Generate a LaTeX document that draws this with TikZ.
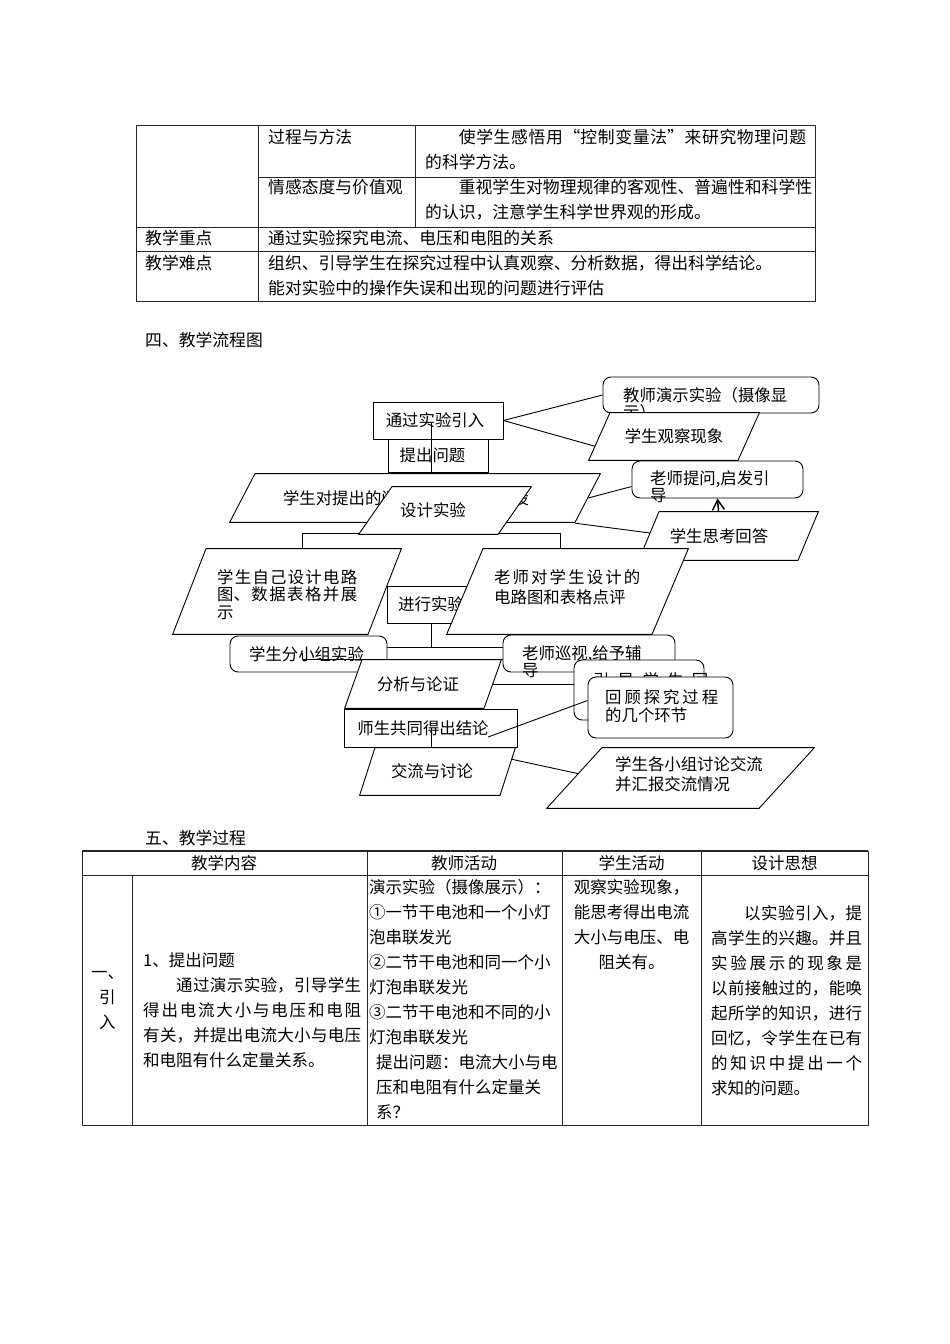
\documentclass[tikz,border=0pt]{standalone}
\usepackage{fontspec}
\usepackage{tikz}
\usetikzlibrary{arrows.meta,calc,backgrounds}
\newfontfamily\cjk{Noto Sans CJK SC}
\XeTeXlinebreaklocale "zh"
\XeTeXlinebreakskip=0pt plus 8pt
\colorlet{inkcol}{black}
\colorlet{rulecol}{black!85}
\newcommand{\toptabfont}{\cjk\fontsize{16.8}{25}\selectfont}
\newcommand{\proctabfont}{\cjk\fontsize{16.5}{25}\selectfont}
\newcommand{\chartfont}[1]{\cjk\fontsize{16.4}{#1}\selectfont}
\newcommand{\chartlead}{\rule{0pt}{14pt}}

\begin{document}
\begin{tikzpicture}[x=1pt, y=-1pt, line join=round,
  every node/.style={inner sep=0pt, text=inkcol},
  tabline/.style={draw=rulecol, line width=0.9pt},
  cell/.style={anchor=north west, font=\toptabfont},
  pcell/.style={anchor=north west, font=\proctabfont},
  conn/.style={draw=inkcol, line width=0.9pt},
  rect/.style={draw=inkcol, line width=0.9pt, fill=white, font=\chartfont{17}},
  rbox/.style={rect, rounded corners=8pt},
  pgram/.style={font=\chartfont{17}, path picture={
      \draw[inkcol, line width=0.9pt, fill=white]
        ([xshift=.6pt,yshift=.6pt]path picture bounding box.south west)
        -- ([xshift=-#1pt,yshift=.6pt]path picture bounding box.south east)
        -- ([xshift=-.6pt,yshift=-.6pt]path picture bounding box.north east)
        -- ([xshift=#1pt,yshift=-.6pt]path picture bounding box.north west)
        -- cycle;}},
  tag/.style={anchor=north west, align=left, font=\chartfont{#1}}]
  \useasboundingbox (0,0) rectangle (950,1344);

  % objectives table
  \draw[tabline] (136,125) rectangle (815,301);
  \draw[tabline] (258,125) -- (258,301);
  \draw[tabline] (415,125) -- (415,227);
  \draw[tabline] (258,177) -- (815,177);
  \foreach \y in {227,251}
    {\draw[tabline] (136,\y) -- (815,\y);}
  \node[cell] (tmethod) at (268,125.7) {\strut 过程与方法};
  \node[cell, text width=381, align=justify] (tmethodtx) at (425,125.7)
    {\strut\hspace*{2em}使学生感悟用“控制变量法”来研究物理问题\linebreak 的科学方法。};
  \node[cell] (tvalue) at (268,175.7) {\strut 情感态度与价值观};
  \node[cell, text width=387, align=justify] (tvaluetx) at (425,175.7)
    {\strut\hspace*{2em}重视学生对物理规律的客观性、普遍性和科学性\linebreak 的认识，注意学生科学世界观的形成。};
  \node[cell] (tkey) at (145,226.7) {\strut 教学重点};
  \node[cell] (tkeytx) at (268,226.7) {\strut 通过实验探究电流、电压和电阻的关系};
  \node[cell] (thard) at (145,251.7) {\strut 教学难点};
  \node[cell, text width=540, align=left] (thardtx) at (268,251.7)
    {\strut 组织、引导学生在探究过程中认真观察、分析数据，得出科学结论。\\能对实验中的操作失误和出现的问题进行评估};

  \node[cell] (head4) at (145,328.7) {\strut 四、教学流程图};

  % flow chart
  \node[rect, minimum width=130, minimum height=37] (intro) at (438,420.5) {通过实验引入\hspace*{6pt}};
  \node[rect, minimum width=100, minimum height=33] (ask) at (438,455.5) {提出问题\hspace*{11pt}};
  \node[pgram=26, minimum width=372, minimum height=50] (guess) at (415,498)
    {学生对提出的问题进行猜想与假设\hspace*{18pt}};
  \coordinate (sp1) at (431,423);
  \draw[conn] (sp1) -- (sp1 |- guess.north);
  \node[pgram=34, minimum width=174, minimum height=49] (design) at (445,510.5) {设计实验\hspace*{24pt}};

  \node[rbox, minimum width=216, minimum height=36] (demo) at (711,395) {};
  \node[tag=17] (demo-t) at (623,387.2) {\chartlead 教师演示实验（摄像显\\示）};
  \node[pgram=22, minimum width=172, minimum height=49] (observe) at (674,436.5) {学生观察现象};
  \node[rbox, minimum width=171, minimum height=37] (ask2) at (717.5,479.5) {};
  \node[tag=17] (ask2-t) at (650,470.2) {\chartlead 老师提问,启发引\\导};
  \node[pgram=21, minimum width=181, minimum height=50] (answer) at (728.5,536) {学生思考回答\hspace*{19pt}};
  \draw[conn, -{Straight Barb[length=10pt,width=12pt]}, line width=1.5pt]
    ([xshift=-10pt]answer.north) -- (ask2.south);

  \node[pgram=34, minimum width=230, minimum height=87] (self) at (287,591.5) {};
  \node[tag=17.5, text width=140, align=justify] (self-t) at (217,569.2)
    {\chartlead 学生自己设计电路\linebreak 图、数据表格并展\linebreak 示};
  \node[rect, minimum width=88, minimum height=37] (run) at (431,604.5) {进行实验};
  \node[pgram=37, minimum width=243, minimum height=87] (review) at (567.5,591.5) {};
  \node[tag=20, text width=146, align=justify] (review-t) at (494,569.2)
    {\chartlead 老师对学生设计的\linebreak 电路图和表格点评};

  \node[rbox, minimum width=157, minimum height=36] (group) at (308.5,654) {学生分小组实验\hspace*{4pt}};
  \node[rbox, minimum width=172, minimum height=37] (patrol) at (589,653.5) {};
  \node[tag=16] (patrol-t) at (522,645.2) {\chartlead 老师巡视,给予辅\\导};
  \node[rbox, minimum width=130, minimum height=60] (recall0) at (639,690) {};
  \node[tag=18, text width=115, align=justify] (recall0-t) at (593,672.2) {\chartlead 引导学生回\linebreak 顾};
  \node[rbox, minimum width=145, minimum height=61] (recall) at (660.5,707.5) {};
  \node[tag=18, text width=113, align=justify] (recall-t) at (605,689.2)
    {\chartlead 回顾探究过程\linebreak 的几个环节};

  \coordinate (fk3) at (302,659);
  \draw[conn] ([yshift=6pt]fk3) -- (fk3) -- (fk3 -| patrol.west);
  \node[pgram=18, minimum width=158, minimum height=50] (analyze) at (423,684) {分析与论证\hspace*{10pt}};
  \node[rect, minimum width=173, minimum height=38] (conclude) at (430.5,728) {师生共同得出结论\hspace*{15pt}};
  \node[pgram=16, minimum width=157, minimum height=49] (discuss) at (437.5,771.5) {交流与讨论\hspace*{11pt}};
  \coordinate (sp2) at (431,728);
  \draw[conn] (sp2) -- (sp2 |- discuss.north);
  \coordinate (cl) at (488,737);
  \draw[conn] ([yshift=7pt]recall.west) -- (cl);
  \node[pgram=56, minimum width=269, minimum height=62] (report) at (680.5,778) {};
  \node[tag=20] (report-t) at (615,756.2) {\chartlead 学生各小组讨论交流\\并汇报交流情况};

  \begin{scope}[on background layer]
    \draw[conn] (intro.east) -- (demo.west);
    \draw[conn] (intro.east) -- ([xshift=8pt,yshift=-10pt]observe.west);
    \draw[conn] ([xshift=-13pt]guess.east) -- ([yshift=-7pt]ask2.west);
    \draw[conn] ([xshift=-26pt]guess.south east) -- ([xshift=12pt,yshift=3pt]answer.west);
    \coordinate (fkL) at (302,533);
    \coordinate (fkR) at (560,533);
    \draw[conn] (fkL |- self.north) -- (fkL) -- (fkR) -- (fkR |- review.north);
    \coordinate (fk2) at (431,647);
    \draw[conn] (run.south -| fk2) -- (fk2);
    \draw[conn] (group.east |- fk2) -- (patrol.west |- fk2);
    \draw[conn] ([xshift=-9pt]analyze.east) -- (analyze.east -| recall0.west);
    \draw[conn] ([xshift=-8pt,yshift=13pt]discuss.east) -- ([xshift=34pt,yshift=4pt]report.west);
  \end{scope}

  \node[cell] (head5) at (145,826.7) {\strut 五、教学过程};

  % process table
  \draw[tabline] (82,851) rectangle (868,1125);
  \draw[tabline, line width=1.4pt] (82,851) -- (868,851);
  \draw[tabline] (82,875) -- (868,875);
  \draw[tabline] (132,875) -- (132,1125);
  \foreach \x in {367,562,701}
    {\draw[tabline] (\x,851) -- (\x,1125);}
  \foreach \x/\t/\n in {224/教学内容/hcontent, 464/教师活动/hteacher, 631.5/学生活动/hstudent, 784.5/设计思想/hidea}
    {\node[pcell, anchor=north] (\n) at (\x,851.7) {\strut\t};}
  \node[pcell, text width=40, align=left] (part) at (91,960.7)
    {\strut 一、\\\hspace*{8pt}引\\\hspace*{8pt}入};
  \node[pcell, text width=218, align=justify] (content) at (143,948.7)
    {\strut 1、提出问题\\\hspace*{2em}通过演示实验，引导学生\linebreak 得出电流大小与电压和电阻\linebreak 有关，并提出电流大小与电压\linebreak 和电阻有什么定量关系。};
  \node[pcell, text width=192, align=left] (teacher) at (369,875.7)
    {\strut 演示实验（摄像展示）：\\①一节干电池和一个小灯\\泡串联发光\\②二节干电池和同一个小\\灯泡串联发光\\③二节干电池和不同的小\\灯泡串联发光\\\hspace*{7pt}提出问题：电流大小与电\\\hspace*{7pt}压和电阻有什么定量关\\\hspace*{7pt}系？};
  \node[pcell, anchor=north, text width=139, align=center] (student) at (631.5,875.7)
    {\XeTeXlinebreakskip=0pt\relax\strut 观察实验现象，\\能思考得出电流\\大小与电压、电\\阻关有。};
  \node[pcell, text width=151, align=justify] (idea) at (711,901.7)
    {\strut\hspace*{2em}以实验引入，提\linebreak 高学生的兴趣。并且\linebreak 实验展示的现象是\linebreak 以前接触过的，能唤\linebreak 起所学的知识，进行\linebreak 回忆，令学生在已有\linebreak 的知识中提出一个\linebreak 求知的问题。};
\end{tikzpicture}
\end{document}
